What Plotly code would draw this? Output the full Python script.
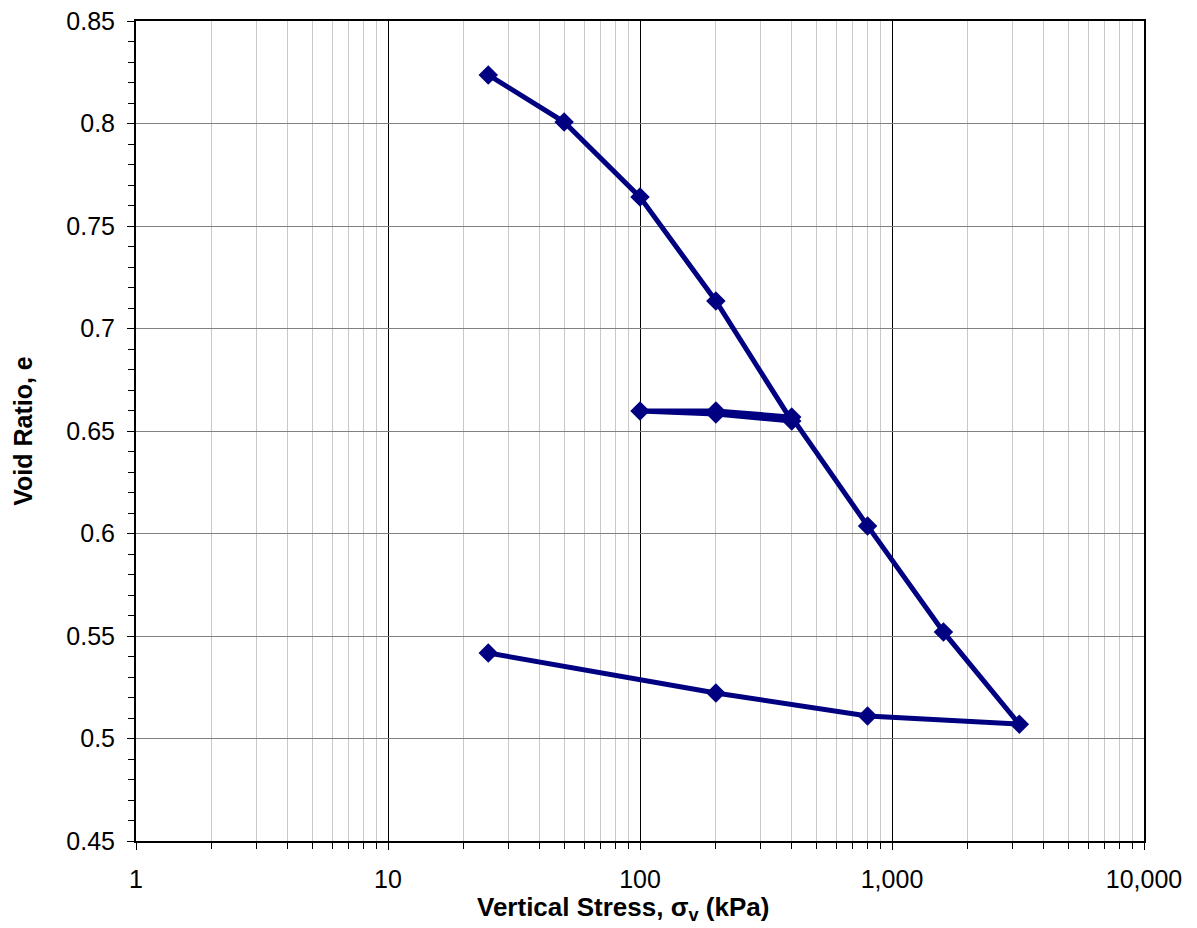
import plotly.graph_objects as go

stress_kpa = [25, 50, 100, 200, 400, 200, 100, 200, 400, 800, 1600, 3200, 800, 200, 25]
void_ratio = [0.8237, 0.8007, 0.7641, 0.7134, 0.6549, 0.6583, 0.6598, 0.6598, 0.6568,
              0.6037, 0.5520, 0.5070, 0.5110, 0.5222, 0.5417]

x_tickvals = [1, 10, 100, 1000, 10000]
x_ticktext = ["1", "10", "100", "1,000", "10,000"]
y_tickvals = [0.45, 0.5, 0.55, 0.6, 0.65, 0.7, 0.75, 0.8, 0.85]
y_ticktext = ["0.45", "0.5", "0.55", "0.6", "0.65", "0.7", "0.75", "0.8", "0.85"]

navy = "#000080"
font_family = "Liberation Sans, Arial, sans-serif"

fig = go.Figure()
fig.add_trace(go.Scatter(
    x=stress_kpa, y=void_ratio, mode="lines+markers",
    line=dict(color=navy, width=5),
    marker=dict(symbol="diamond", size=15, color=navy),
    showlegend=False,
))

fig.update_layout(
    width=1197, height=928,
    margin=dict(l=128, r=61, t=13, b=95),
    plot_bgcolor="white", paper_bgcolor="white",
    font=dict(family=font_family, size=25, color="black"),
)

fig.update_xaxes(
    type="log", range=[0, 4], automargin=False,
    tickmode="array", tickvals=x_tickvals, ticktext=x_ticktext,
    ticks="outside", ticklen=7, tickwidth=1, tickcolor="black",
    ticklabelstandoff=8, ticklabeloverflow="allow",
    showline=True, linecolor="black", linewidth=2, mirror=True,
    showgrid=True, gridcolor="black", gridwidth=1,
    minor=dict(dtick="D1", ticks="outside", ticklen=6, tickcolor="black",
               showgrid=True, gridcolor="#c8c8c8", gridwidth=1),
    tickfont=dict(size=25),
    zeroline=False,
)

fig.update_yaxes(
    range=[0.45, 0.85], automargin=False,
    tickmode="array", tickvals=y_tickvals, ticktext=y_ticktext,
    ticks="outside", ticklen=7, tickwidth=1, tickcolor="black",
    ticklabelstandoff=7, ticklabeloverflow="allow",
    showline=True, linecolor="black", linewidth=2, mirror=True,
    showgrid=True, gridcolor="#808080", gridwidth=1,
    minor=dict(dtick=0.01, tick0=0.45, ticks="outside", ticklen=6, tickcolor="black", showgrid=False),
    tickfont=dict(size=25),
    title=dict(text="<b>Void Ratio, e</b>", font=dict(size=25), standoff=27),
    zeroline=False,
)

fig.add_annotation(
    text="<b>Vertical Stress, σ<sub>v</sub> (kPa)</b>",
    xref="paper", yref="paper", x=0.4831, y=0,
    xanchor="center", yanchor="middle", yshift=-67,
    showarrow=False, font=dict(size=26, family=font_family, color="black"),
)

fig.write_html("out.html")
